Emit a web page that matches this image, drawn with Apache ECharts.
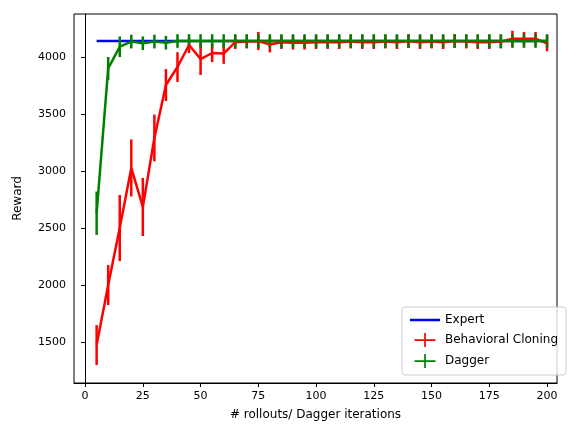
<!DOCTYPE html>
<html>
<head>
<meta charset="utf-8">
<script src="https://cdn.jsdelivr.net/npm/echarts@6/dist/echarts.min.js"></script>
<style>html,body{margin:0;padding:0;background:#fff}#c{width:583px;height:436px}</style>
</head>
<body>
<div id="c"></div>
<script>
let rollouts = [];
for (let i = 5; i <= 200; i += 5) rollouts.push(i);
let expert = [4140, 4140];
let bcMean = [1474, 2000, 2500, 3027, 2685, 3290, 3754, 3912, 4105, 3982, 4035, 4030, 4130, 4135, 4140, 4110, 4130, 4125, 4125, 4130,
  4130, 4130, 4135, 4130, 4130, 4135, 4130, 4140, 4130, 4135, 4130, 4140, 4135, 4130, 4130, 4135, 4160, 4160, 4160, 4120];
let bcErr = [175, 175, 290, 250, 255, 205, 140, 130, 70, 140, 80, 90, 60, 60, 80, 70, 60, 60, 60, 60,
  60, 60, 60, 60, 60, 60, 60, 60, 60, 60, 60, 60, 60, 60, 60, 60, 70, 60, 60, 70];
let dgMean = [2630, 3900, 4090, 4135, 4120, 4135, 4125, 4140, 4140, 4140, 4140, 4140, 4140, 4140, 4140, 4140, 4140, 4140, 4140, 4140,
  4140, 4140, 4140, 4140, 4140, 4140, 4140, 4140, 4140, 4140, 4140, 4140, 4140, 4140, 4140, 4140, 4140, 4140, 4140, 4140];
let dgErr = [190, 100, 90, 60, 60, 60, 60, 60, 60, 60, 60, 60, 60, 60, 60, 60, 60, 60, 60, 60,
  60, 60, 60, 60, 60, 60, 60, 60, 60, 60, 60, 60, 60, 60, 60, 60, 60, 60, 60, 60];
let xTicks = [0, 25, 50, 75, 100, 125, 150, 175, 200];
let yTicks = [1500, 2000, 2500, 3000, 3500, 4000];

let chart = echarts.init(document.getElementById('c'));

function errSeries(mean, err, color) {
  return {
    type: 'custom', z: 3,
    data: rollouts.map((x, i) => [x, mean[i] - err[i], mean[i] + err[i]]),
    renderItem: function (params, api) {
      let a = api.coord([api.value(0), api.value(1)]);
      let b = api.coord([api.value(0), api.value(2)]);
      return { type: 'line', shape: { x1: a[0], y1: a[1], x2: b[0], y2: b[1] }, style: { stroke: color, lineWidth: 2.5 } };
    }
  };
}
let errIcon = 'path://M0,9 L30,9 L30,11.5 L0,11.5 Z M13.8,0 L16.2,0 L16.2,20 L13.8,20 Z';
let option = {
  animation: false,
  grid: { left: 74, right: 26, top: 14, bottom: 53, show: true, borderColor: '#000', borderWidth: 1 },
  xAxis: {
    type: 'value', min: -4.8, max: 204.3,
    name: '# rollouts/ Dagger iterations', nameLocation: 'middle', nameGap: 26,
    nameTextStyle: { color: '#000', fontSize: 12, fontFamily: 'DejaVu Sans' },
    axisLine: { lineStyle: { color: '#000' } }, splitLine: { show: false },
    axisTick: { customValues: xTicks, length: 4, lineStyle: { color: '#000' } },
    axisLabel: { customValues: xTicks, color: '#000', fontSize: 11, fontFamily: 'DejaVu Sans' }
  },
  yAxis: {
    type: 'value', min: 1141, max: 4377,
    name: 'Reward', nameLocation: 'middle', nameGap: 50,
    nameTextStyle: { color: '#000', fontSize: 12, fontFamily: 'DejaVu Sans' },
    axisLine: { show: true, lineStyle: { color: '#000' } }, splitLine: { show: false },
    axisTick: { show: true, customValues: yTicks, length: 4, lineStyle: { color: '#000' } },
    axisLabel: { customValues: yTicks, formatter: v => String(v), color: '#000', fontSize: 11, fontFamily: 'DejaVu Sans' }
  },
  legend: {
    orient: 'vertical', right: 17, bottom: 61, itemWidth: 30, itemHeight: 14, itemGap: 7,
    padding: [7, 8, 7, 8], borderColor: '#ccc', borderWidth: 1, borderRadius: 3,
    backgroundColor: 'rgba(255,255,255,0.8)',
    textStyle: { color: '#000', fontSize: 12, fontFamily: 'DejaVu Sans' },
    data: [
      { name: 'Expert', icon: 'path://M0,9 L30,9 L30,11.5 L0,11.5 Z', itemStyle: { color: '#0000ff' } },
      { name: 'Behavioral Cloning', icon: errIcon, itemStyle: { color: '#ff0000' } },
      { name: 'Dagger', icon: errIcon, itemStyle: { color: '#008000' } }
    ]
  },
  series: [
    { name: 'Expert', type: 'line', data: [[5, expert[0]], [200, expert[1]]], showSymbol: false,
      lineStyle: { color: '#0000ff', width: 2.5 }, itemStyle: { color: '#0000ff' }, z: 1 },
    errSeries(bcMean, bcErr, '#ff0000'),
    { name: 'Behavioral Cloning', type: 'line', data: rollouts.map((x, i) => [x, bcMean[i]]), showSymbol: false,
      lineStyle: { color: '#ff0000', width: 2.5 }, itemStyle: { color: '#ff0000' }, z: 3 },
    errSeries(dgMean, dgErr, '#008000'),
    { name: 'Dagger', type: 'line', data: rollouts.map((x, i) => [x, dgMean[i]]), showSymbol: false,
      lineStyle: { color: '#008000', width: 2.5 }, itemStyle: { color: '#008000' }, z: 4 }
  ]
};
chart.setOption(option);
</script>
</body>
</html>
